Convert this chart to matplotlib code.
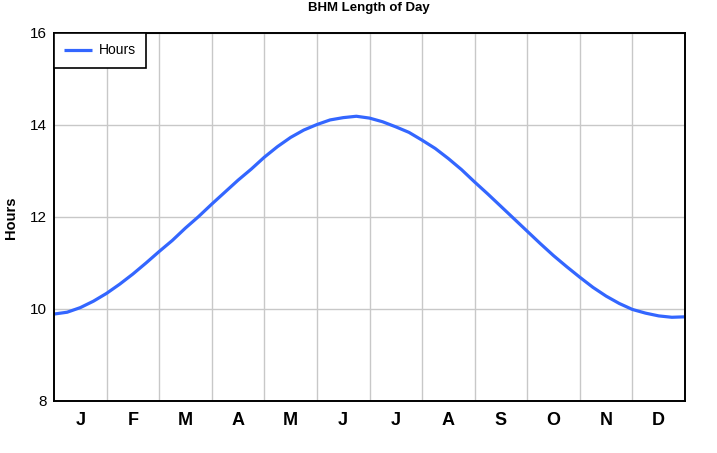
import numpy as np
import matplotlib
matplotlib.use("Agg")
import matplotlib.pyplot as plt
from matplotlib.ticker import FixedLocator

plt.rcParams['font.family'] = ['Liberation Sans', 'DejaVu Sans']

# month position (0 = 1 Jan, 12 = 31 Dec) and hours of daylight
month_pos = [0, 0.25, 0.5, 0.75, 1.0, 1.25, 1.5, 1.75, 2.0, 2.25, 2.5, 2.75, 3.0, 3.25,
             3.5, 3.75, 4.0, 4.25, 4.5, 4.75, 5.0, 5.25, 5.5, 5.75, 6.0, 6.25, 6.5, 6.75,
             7.0, 7.25, 7.5, 7.75, 8.0, 8.25, 8.5, 8.75, 9.0, 9.25, 9.5, 9.75, 10.0,
             10.25, 10.5, 10.75, 11.0, 11.25, 11.5, 11.75, 12.0]
hours = [9.89, 9.93, 10.03, 10.17, 10.34, 10.54, 10.76, 11.00, 11.25, 11.49, 11.76, 12.01,
         12.28, 12.54, 12.80, 13.04, 13.30, 13.53, 13.73, 13.89, 14.01, 14.11, 14.16, 14.19,
         14.15, 14.07, 13.96, 13.84, 13.67, 13.49, 13.27, 13.03, 12.76, 12.50, 12.23,
         11.96, 11.69, 11.42, 11.16, 10.92, 10.69, 10.47, 10.28, 10.12, 9.99, 9.91, 9.85,
         9.82, 9.83]
month_labels = ['J', 'F', 'M', 'A', 'M', 'J', 'J', 'A', 'S', 'O', 'N', 'D']
y_ticks = [8, 10, 12, 14, 16]

fig = plt.figure(figsize=(7.17, 4.53), dpi=100)
ax = fig.add_axes([54/717, 1-401/453, (685-54)/717, (401-33)/453])

ax.plot(month_pos, hours, color='#3366FF', lw=2.3, label='Hours', solid_capstyle='butt')

ax.set_xlim(0, 12)
ax.set_ylim(8, 16)

# month boundaries carry the grid, centres carry the letters
ax.xaxis.set_minor_locator(FixedLocator(np.arange(1, 12)))
ax.set_xticks(np.arange(12) + 0.5)
ax.set_xticklabels(month_labels, fontsize=13, fontweight='bold')
ax.tick_params(axis='x', which='both', length=0, pad=8)
ax.set_yticks(y_ticks)
ax.tick_params(axis='y', length=0, labelsize=11, pad=5)

ax.grid(True, which='minor', axis='x', color='#C8C8C8', lw=1)
ax.grid(True, which='major', axis='y', color='#C8C8C8', lw=1)
ax.set_axisbelow(True)

for s in ax.spines.values():
    s.set_linewidth(1.4)
    s.set_color('black')

fig.text(10.5/717, 1-218/453, 'Hours', rotation=90, ha='center', va='center',
         fontsize=10.5, fontweight='bold')
fig.text(369/717, 1-8/453, 'BHM Length of Day', ha='center', va='center',
         fontsize=9.5, fontweight='bold')

leg = ax.legend(loc='upper left', fontsize=10, fancybox=False, framealpha=1,
                edgecolor='black', borderaxespad=0, handlelength=2.0,
                handletextpad=0.45, borderpad=0.75)
leg.get_frame().set_linewidth(1.2)

fig.savefig('out.png', dpi=100)
